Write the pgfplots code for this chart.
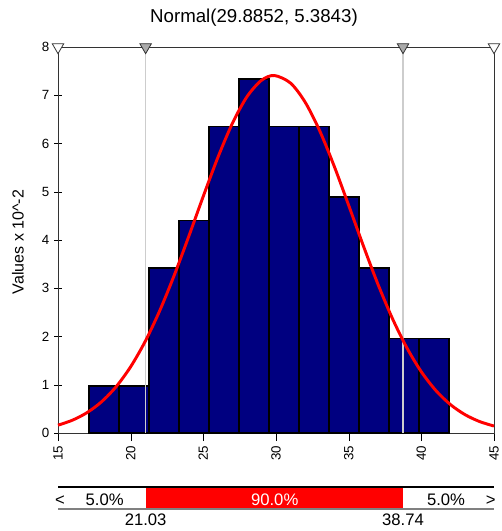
\documentclass[border=0pt]{standalone}
\usepackage{fontspec}
\setmainfont{Liberation Sans}
\usepackage{pgfplots}
\pgfplotsset{compat=1.18}
\definecolor{navybar}{RGB}{0,0,128}
\definecolor{pctline}{RGB}{205,205,205}
\definecolor{trigray}{RGB}{170,170,170}

\begin{document}
\begin{tikzpicture}[x=1pt,y=1pt]
% page = 501 x 531 px, 1 px = 0.75pt
\path[use as bounding box] (0,0) rectangle (375.75,-398.25);
\node[anchor=base, inner sep=0pt, font=\fontsize{14}{16}\selectfont]
    at (190.5,-17.25) {Normal(29.8852, 5.3843)};

\begin{axis}[
    at={(43.5pt,-324.75pt)}, anchor=south west,
    scale only axis,
    width=327pt, height=289.5pt,
    xmin=15, xmax=45, ymin=0, ymax=8,
    xtick={15,20,...,45}, ytick={0,1,...,8},
    xtick pos=bottom, ytick pos=left,
    xtick align=outside, ytick align=center,
    major tick length=6pt,
    tick style={black},
    xticklabel style={rotate=90, anchor=east, font=\fontsize{10}{12}\selectfont},
    yticklabel style={font=\fontsize{10}{12}\selectfont},
    /pgf/number format/assume math mode=true,
    axis line style={black!80},
    clip=false,
    ylabel={Values x 10\^{}-2},
    ylabel style={at={(axis description cs:-0.0917,0.495)}, anchor=center,
                  font=\fontsize{12}{14}\selectfont},
]
% histogram (density x 100)
\addplot[ybar interval, fill=navybar, draw=black, line width=1.1pt] coordinates {
    (17.13,0.978) (19.194,0.978) (21.258,3.423) (23.322,4.401) (25.386,6.357)
    (27.45,7.335) (29.514,6.357) (31.578,6.357) (33.642,4.890) (35.706,3.423)
    (37.77,1.956) (39.834,1.956) (41.898,1.956)
};
% 5% / 95% markers
\addplot[pctline, line width=1pt] coordinates {(21.03,0) (21.03,8)};
\addplot[pctline, line width=1pt] coordinates {(38.74,0) (38.74,8)};
% fitted normal
\addplot[red, line width=2.2pt, smooth] coordinates {
    (15,0.1622) (16,0.2665) (17,0.4228) (18,0.6482) (19,0.9599) (20,1.3736)
    (21,1.8988) (22,2.5354) (23,3.2712) (24,4.0770) (25,4.9095) (26,5.7111)
    (27,6.4183) (28,6.9689) (29,7.3100) (29.885,7.4094) (31,7.2522) (32,6.8594)
    (33,6.2678) (34,5.5331) (35,4.7189) (36,3.8880) (37,3.0946) (38,2.3800)
    (39,1.7680) (40,1.2689) (41,0.8798) (42,0.5895) (43,0.3814) (44,0.2385)
    (45,0.1440)
};
\addplot[only marks, mark=triangle*, mark size=5pt,
    mark options={rotate=180, fill=trigray, draw=black!80, line width=0.6pt}]
    coordinates {(21.03,8) (38.74,8)};
\addplot[only marks, mark=triangle*, mark size=5pt,
    mark options={rotate=180, fill=white, draw=black!80, line width=0.6pt}]
    coordinates {(15,8) (45,8)};
\end{axis}

% delimiter bar
\begin{axis}[
    at={(43.5pt,-381.75pt)}, anchor=south west,
    scale only axis,
    width=327pt, height=16.5pt,
    xmin=15, xmax=45, ymin=0, ymax=1,
    hide axis, clip=false,
]
\addplot[fill=red, draw=none] coordinates {(21.03,1) (38.74,1)} \closedcycle;
\addplot[black, line width=0.8pt] coordinates {(15,1) (45,1)};
\addplot[gray, line width=1.3pt] coordinates {(15,0) (45,0)};
\node[anchor=base, inner sep=0pt, font=\fontsize{12.5}{14}\selectfont] at (axis cs:15.14,0.18) {<};
\node[anchor=base, inner sep=0pt, font=\fontsize{12.5}{14}\selectfont] at (axis cs:18.21,0.18) {5.0\%};
\node[anchor=base, inner sep=0pt, font=\fontsize{12.5}{14}\selectfont, text=white] at (axis cs:29.91,0.18) {90.0\%};
\node[anchor=base, inner sep=0pt, font=\fontsize{12.5}{14}\selectfont] at (axis cs:41.70,0.18) {5.0\%};
\node[anchor=base, inner sep=0pt, font=\fontsize{12.5}{14}\selectfont] at (axis cs:44.78,0.18) {>};
\node[anchor=base, inner sep=0pt, font=\fontsize{12.5}{14}\selectfont] at (axis cs:21.03,-0.77) {21.03};
\node[anchor=base, inner sep=0pt, font=\fontsize{12.5}{14}\selectfont] at (axis cs:38.74,-0.77) {38.74};
\end{axis}
\end{tikzpicture}
\end{document}
